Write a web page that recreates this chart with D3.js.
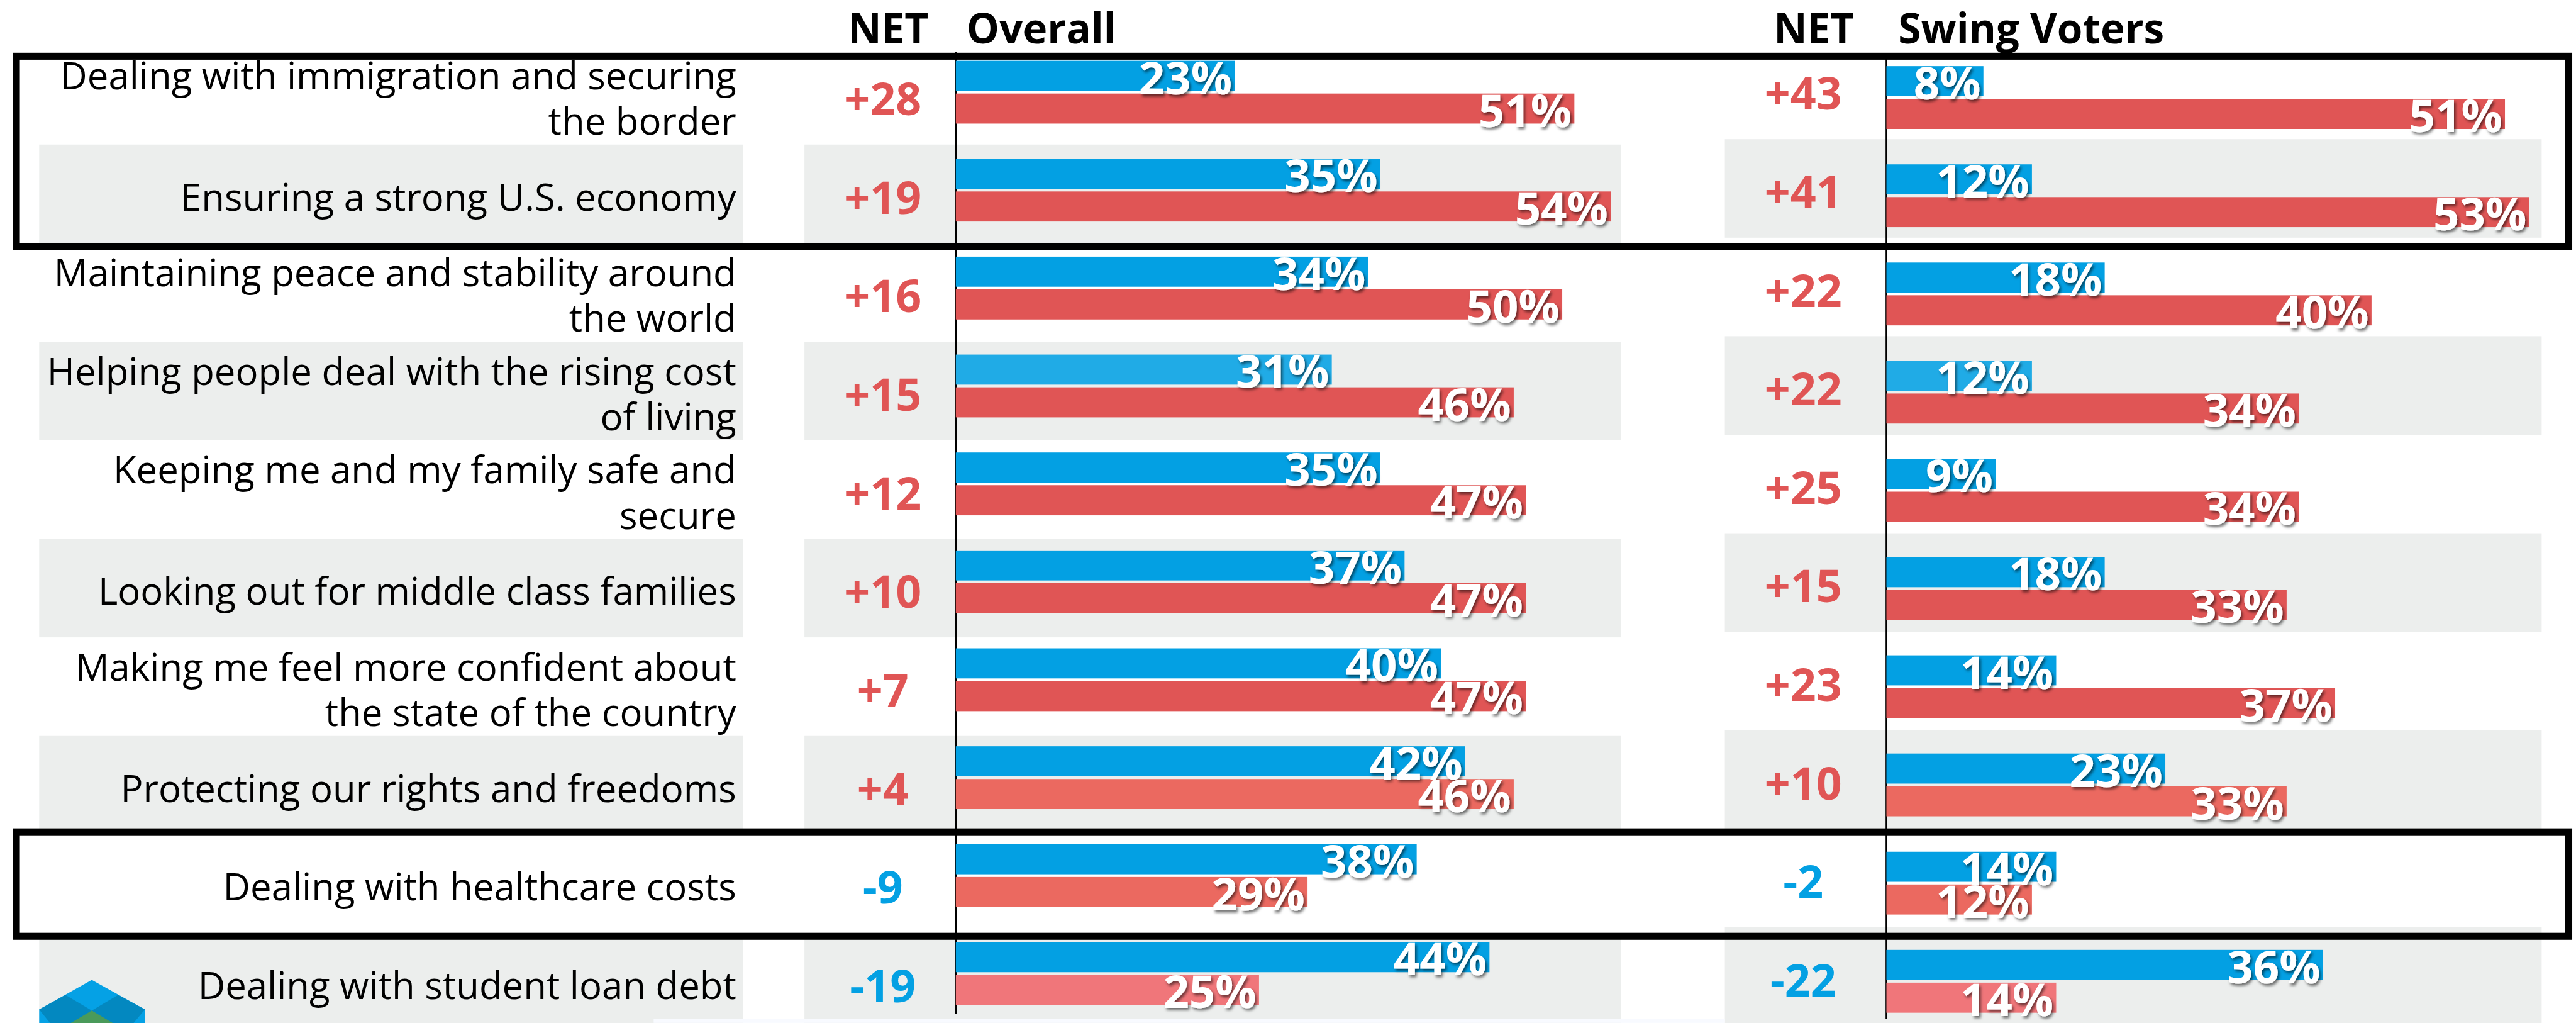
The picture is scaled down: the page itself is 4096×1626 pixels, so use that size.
<!DOCTYPE html>
<html><head><meta charset="utf-8">
<script src="https://cdn.jsdelivr.net/npm/d3@7"></script>
<style>html,body{margin:0;padding:0;background:#fff;overflow:hidden}</style>
</head><body>
<script>
// ---------------- data ----------------
const categories = [
  "Dealing with immigration and securing\nthe border",
  "Ensuring a strong U.S. economy",
  "Maintaining peace and stability around\nthe world",
  "Helping people deal with the rising cost\nof living",
  "Keeping me and my family safe and\nsecure",
  "Looking out for middle class families",
  "Making me feel more confident about\nthe state of the country",
  "Protecting our rights and freedoms",
  "Dealing with healthcare costs",
  "Dealing with student loan debt"
];
const overallBlue = [23, 35, 34, 31, 35, 37, 40, 42, 38, 44];
const overallRed  = [51, 54, 50, 46, 47, 47, 47, 46, 29, 25];
const overallNet  = [28, 19, 16, 15, 12, 10, 7, 4, -9, -19];
const swingBlue   = [8, 12, 18, 12, 9, 18, 14, 23, 14, 36];
const swingRed    = [51, 53, 40, 34, 34, 33, 37, 33, 12, 14];
const swingNet    = [43, 41, 22, 22, 25, 15, 23, 10, -2, -22];
const panelTitles = ["Overall", "Swing Voters"];
const netTitle = "NET";
const highlightedRows = [[0, 1], [8, 8]];

// ---------------- styles ----------------
const BLUE = "#03A0E3", BLUE_LIGHT = "#20ABE6";
const RED = "#E05555", RED_LIGHT = "#EB6960", RED_PINK = "#F0767A";
const blueTone = [BLUE, BLUE, BLUE, BLUE_LIGHT, BLUE, BLUE, BLUE, BLUE, BLUE, BLUE];
const redTone  = [RED, RED, RED, RED, RED, RED, RED, RED_LIGHT, RED_LIGHT, RED_PINK];
const BAND = "#ECEEED";
const FONT = "'Open Sans', 'Noto Sans', sans-serif";

const W = 4800, H = 1905;
const svg = d3.select("body").append("svg")
  .attr("width", 4096).attr("height", 1626)
  .attr("viewBox", `0 0 ${W} ${H}`);

const defs = svg.append("defs");
defs.append("filter").attr("id", "ds")
  .attr("x", "-20%").attr("y", "-20%").attr("width", "150%").attr("height", "170%")
  .append("feDropShadow")
  .attr("dx", 3).attr("dy", 4).attr("stdDeviation", 2.5)
  .attr("flood-color", "#000").attr("flood-opacity", 0.55);

const idx = d3.range(categories.length);
const n = categories.length;

// row band scales
const labelBand = d3.scaleBand().domain(idx).range([85.4, 85.4 + n * 183.6]);

const panels = [
  { title: panelTitles[0], blue: overallBlue, red: overallRed, net: overallNet,
    axisX: 1781, netX: 1645, netHeadX: 1655, titleX: 1801,
    bandX0: 1499, bandX1: 3021, bandTop: 85.4, bandStep: 183.6,
    barTop: 113, barStep: 182.4, axisY0: 97, axisY1: 1888 },
  { title: panelTitles[1], blue: swingBlue, red: swingRed, net: swingNet,
    axisX: 3515, netX: 3360, netHeadX: 3380, titleX: 3537,
    bandX0: 3214, bandX1: 4736, bandTop: 75.5, bandStep: 183.5,
    barTop: 123, barStep: 182.9, axisY0: 105, axisY1: 1898 }
];

const BAR_H = 56, BAR_GAP = 5;

// label column bands
svg.append("g").selectAll("rect").data(idx.filter(i => i % 2 === 1)).join("rect")
  .attr("x", 73).attr("width", 1384 - 73)
  .attr("y", i => labelBand(i)).attr("height", labelBand.bandwidth())
  .attr("fill", BAND);

panels.forEach(p => {
  p.band = d3.scaleBand().domain(idx).range([p.bandTop, p.bandTop + n * p.bandStep]);
  p.y = d3.scaleBand().domain(idx).range([p.barTop, p.barTop + n * p.barStep]);
  p.x = d3.scaleLinear().domain([0, 100]).range([p.axisX, p.axisX + 2260]);
  svg.append("g").selectAll("rect").data(idx.filter(i => i % 2 === 1)).join("rect")
    .attr("x", p.bandX0).attr("width", p.bandX1 - p.bandX0)
    .attr("y", i => p.band(i)).attr("height", p.band.bandwidth())
    .attr("fill", BAND);
});

// logo (decorative)
const logo = svg.append("g");
logo.append("polygon").attr("points", "171,1825 270,1880 270,1910 73,1910 73,1880").attr("fill", "#05A1E5");
logo.append("polygon").attr("points", "122,1853 171,1882 133,1910 97,1910 73,1880").attr("fill", "#0388C0");
logo.append("polygon").attr("points", "220,1853 171,1882 209,1910 245,1910 270,1880").attr("fill", "#0388C0");
logo.append("polygon").attr("points", "171,1882 218,1910 124,1910").attr("fill", "#4A9A5A");

panels.forEach(p => {
  // axis line
  svg.append("line").attr("x1", p.axisX).attr("x2", p.axisX)
    .attr("y1", p.axisY0).attr("y2", p.axisY1)
    .attr("stroke", "#000").attr("stroke-width", 3);

  const g = svg.append("g");
  g.selectAll("rect.b").data(idx).join("rect").attr("class", "b")
    .attr("x", p.x(0)).attr("y", i => p.y(i))
    .attr("width", i => p.x(p.blue[i]) - p.x(0)).attr("height", BAR_H)
    .attr("fill", i => blueTone[i]);
  g.selectAll("rect.r").data(idx).join("rect").attr("class", "r")
    .attr("x", p.x(0)).attr("y", i => p.y(i) + BAR_H + BAR_GAP)
    .attr("width", i => p.x(p.red[i]) - p.x(0)).attr("height", BAR_H)
    .attr("fill", i => redTone[i]);

  const lab = svg.append("g").attr("font-family", FONT).attr("font-weight", 700)
    .attr("font-size", 85).attr("fill", "#fff").attr("text-anchor", "end")
    .attr("filter", "url(#ds)");
  lab.selectAll("text.b").data(idx).join("text").attr("class", "b")
    .attr("x", i => p.x(p.blue[i]) - 5).attr("y", i => p.y(i) + BAR_H + 6)
    .text(i => p.blue[i] + "%");
  lab.selectAll("text.r").data(idx).join("text").attr("class", "r")
    .attr("x", i => p.x(p.red[i]) - 5).attr("y", i => p.y(i) + 2 * BAR_H + BAR_GAP + 6)
    .text(i => p.red[i] + "%");

  // NET values
  svg.append("g").attr("font-family", FONT).attr("font-weight", 700)
    .attr("font-size", 84).attr("text-anchor", "middle")
    .selectAll("text").data(idx).join("text")
    .attr("x", p.netX).attr("y", i => p.band(i) + p.band.bandwidth() / 2 + 37)
    .attr("fill", i => p.net[i] >= 0 ? RED : BLUE)
    .text(i => (p.net[i] > 0 ? "+" : "") + p.net[i]);

  // headers
  const hd = svg.append("g").attr("font-family", FONT).attr("font-weight", 700)
    .attr("font-size", 77).attr("fill", "#000");
  hd.append("text").attr("x", p.netHeadX).attr("y", 81).attr("text-anchor", "middle").text(netTitle);
  hd.append("text").attr("x", p.titleX).attr("y", 81).text(p.title);
});

// category labels
const LINE = 85;
const lg = svg.append("g").attr("font-family", FONT).attr("font-size", 70.2)
  .attr("fill", "#000").attr("text-anchor", "end");
lg.selectAll("text").data(idx).join("text")
  .attr("y", i => {
    const lines = categories[i].split("\n").length;
    return labelBand(i) + labelBand.bandwidth() / 2 + 31 - (lines - 1) * LINE / 2;
  })
  .each(function (i) {
    const t = d3.select(this);
    categories[i].split("\n").forEach((s, k) => {
      t.append("tspan").attr("x", 1372).attr("dy", k === 0 ? 0 : LINE).text(s);
    });
  });

// faint strip at the bottom
svg.append("rect").attr("x", 1218).attr("y", 1898).attr("width", 3214 - 1218).attr("height", 7)
  .attr("fill", "#F8FAFF");

// highlight boxes
const SW = 13;
svg.append("g").selectAll("rect").data(highlightedRows).join("rect")
  .attr("x", 24 + SW / 2).attr("width", 4793 - 24 - SW)
  .attr("y", d => d[0] === 0 ? 98 + SW / 2 : labelBand(d[0]) - 5)
  .attr("height", d => {
    const top = d[0] === 0 ? 98 + SW / 2 : labelBand(d[0]) - 5;
    return labelBand(d[1]) + labelBand.bandwidth() + 6 - top;
  })
  .attr("fill", "none").attr("stroke", "#000").attr("stroke-width", SW);
</script>
</body></html>
